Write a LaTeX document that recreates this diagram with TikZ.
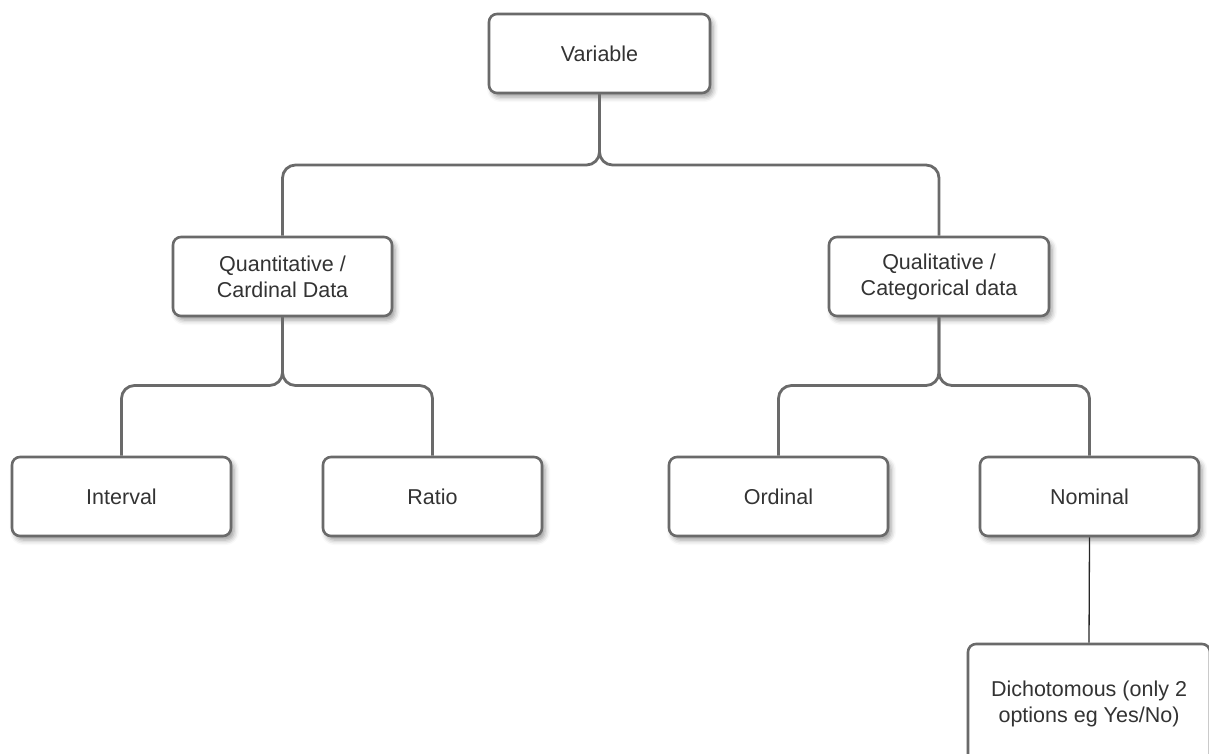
\documentclass[tikz,border=0pt]{standalone}
\usepackage{fontspec}
\setmainfont{Liberation Sans}
\usetikzlibrary{shadows.blur}
\definecolor{edgegray}{HTML}{6A6A6A}
\definecolor{txtgray}{HTML}{333333}
\tikzset{
  box/.style={draw=edgegray, line width=2.6pt, rounded corners=8pt, fill=white,
    minimum width=219pt, minimum height=79pt, align=center, text=txtgray,
    font=\fontsize{21.5pt}{26pt}\selectfont,
    blur shadow={shadow xshift=3pt, shadow yshift=-4pt, shadow blur radius=5pt, shadow opacity=40}},
  conn/.style={draw=edgegray, line width=2.8pt, rounded corners=13pt},
  thin/.style={draw=black!85, line width=1.3pt}
}
\begin{document}
\begin{tikzpicture}[x=1pt,y=-1pt]
\useasboundingbox (0,0) rectangle (1209,754);
\node[box, minimum width=221pt] (var) at (599.5,53.5) {Variable};
\node[box] (quant) at (282.5,276.5) {Quantitative /\\Cardinal Data};
\node[box, minimum width=220pt] (qual) at (939,276.5) {Qualitative /\\Categorical data};
\node[box] (interval) at (121.5,496.5) {Interval};
\node[box] (ratio) at (432.5,496.5) {Ratio};
\node[box] (ordinal) at (778.5,496.5) {Ordinal};
\node[box] (nominal) at (1089.5,496.5) {Nominal};
\node[box, minimum width=242pt, minimum height=120pt] (dich) at (1089,704) {Dichotomous (only 2\\options eg Yes/No)};
\coordinate (j1) at (0,165);
\coordinate (j2) at (0,385.5);
\coordinate (j3) at (0,385.5);
\draw[conn] (var.south) -- (var.south |- j1) -- (quant.north |- j1) -- (quant.north);
\draw[conn] (var.south) -- (var.south |- j1) -- (qual.north |- j1) -- (qual.north);
\draw[conn] (quant.south) -- (quant.south |- j2) -- (interval.north |- j2) -- (interval.north);
\draw[conn] (quant.south) -- (quant.south |- j2) -- (ratio.north |- j2) -- (ratio.north);
\draw[conn] (qual.south) -- (qual.south |- j3) -- (ordinal.north |- j3) -- (ordinal.north);
\draw[conn] (qual.south) -- (qual.south |- j3) -- (nominal.north |- j3) -- (nominal.north);
\draw[thin] (nominal.south) -- (dich.north);
\end{tikzpicture}
\end{document}
